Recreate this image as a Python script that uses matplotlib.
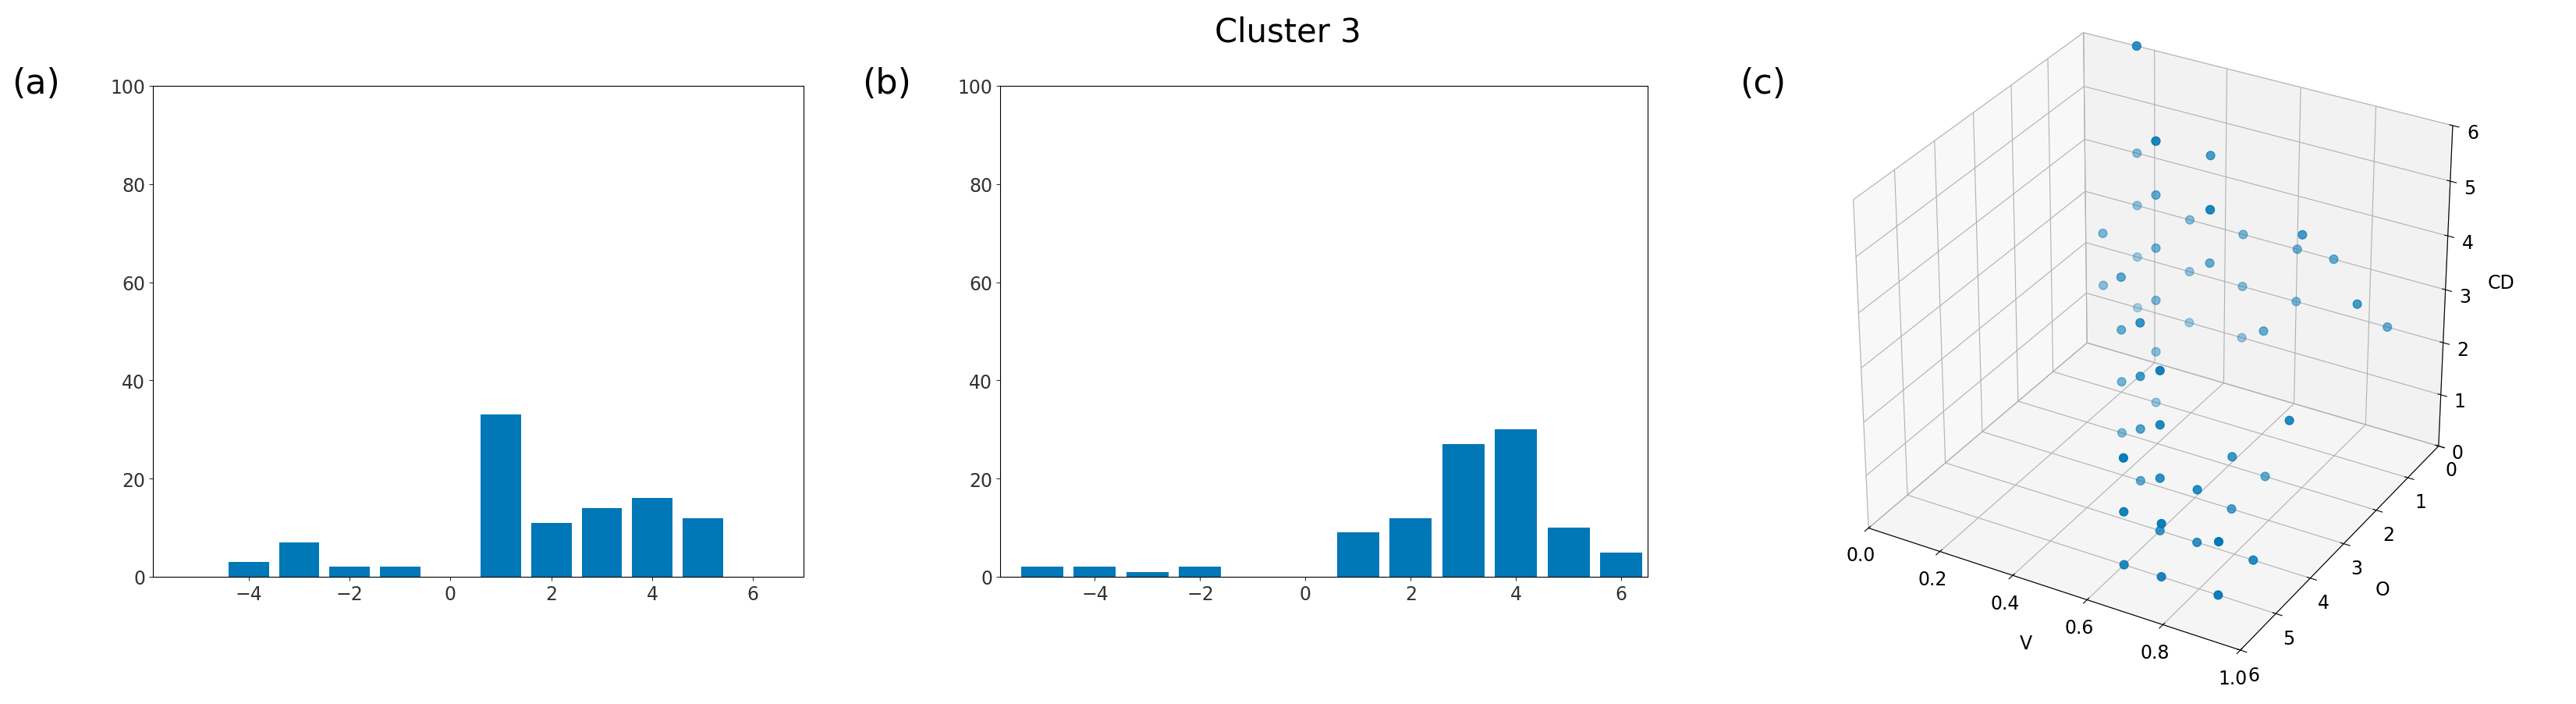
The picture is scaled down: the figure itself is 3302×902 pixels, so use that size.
import matplotlib
matplotlib.use("Agg")
import matplotlib.pyplot as plt

a_x = [-4, -3, -2, -1, 1, 2, 3, 4, 5]
a_y = [3, 7, 2, 2, 33, 11, 14, 16, 12]
b_x = [-5, -4, -3, -2, 1, 2, 3, 4, 5, 6]
b_y = [2, 2, 1, 2, 9, 12, 27, 30, 10, 5]

# 3D scatter points (V, O, CD)
pts_V = [0.3,0.3,0.3,0.3, 0.3,0.3,0.3,0.3, 0.45,0.45,0.45,0.45, 0.6,0.6,0.6,0.6, 0.6,0.6,0.6,
         0.7,0.7,0.7,0.7, 0.7,0.7,0.7, 0.85,0.85,0.85,0.85,
         0.15,0.15,0.15,0.15, 0.3,0.3,0.3, 0.45,0.45,0.45, 0.15,0.15, 0.45,0.45,0.45,0.45, 0.3,0.3,0.3,
         0.6,0.6,0.6,0.7,0.7,0.85,0.85,0.15,0.15]
pts_O = [1,1,1,1, 2,2,2,2, 3,3,3,3, 4,4,4,4, 5,5,5,
         2,3,4,5, 3,4,5, 4,5,5,3,
         0,0,0,0, 0,0,0, 0,0,0, 1,1, 1,1,1,1, 1,1,1,
         0,0,1,0,1,0,1,0,0]
pts_CD = [0,1,2,3, 0,1,2,3, 0,1,2,3, 0,1,2,3, 0,1,2,
          0,0,0,0, 1,1,1, 0,0,1,2,
          1,2,3,4, 1,2,3, 1,2,3, 2,3, 3,4,4,5, 4,5,5,
          2,3,2,3,4,2,3,6,6]

W, H = 3302, 903
fig = plt.figure(figsize=(W/100, H/100), dpi=100)
fig.text(0.5, 1-42/H, "Cluster 3", ha="center", va="center", fontsize=30)
c = "#0077b6"

ax1 = fig.add_axes([196/W, 1-740/H, 834/W, 629/H])
ax1.bar(a_x, a_y, color=c, width=0.8)
ax1.set_xlim(-5.9, 7)
ax1.set_ylim(0, 100)
ax2 = fig.add_axes([1282/W, 1-740/H, 830/W, 629/H])
ax2.bar(b_x, b_y, color=c, width=0.8)
ax2.set_xlim(-5.8, 6.5)
ax2.set_ylim(0, 100)
for ax in (ax1, ax2):
    ax.set_xticks([-4, -2, 0, 2, 4, 6])
    ax.set_yticks([0, 20, 40, 60, 80, 100])
    ax.tick_params(labelsize=17, colors="#333333")

fig.text(15/W, 1-107/H, "(a)", fontsize=32, va="center")
fig.text(1105/W, 1-107/H, "(b)", fontsize=32, va="center")
fig.text(2230/W, 1-107/H, "(c)", fontsize=32, va="center")

ax3 = fig.add_axes([2255/W, 0.03, 1000/W, 0.98], projection="3d")
ax3.set_box_aspect((4, 4, 3.5))
ax3.scatter(pts_V, pts_O, pts_CD, color=c, s=60, depthshade=True)
ax3.set_xlim(0, 1)
ax3.set_ylim(6, 0)
ax3.set_zlim(0, 6)
ax3.set_xlabel("V", fontsize=17, labelpad=14)
ax3.set_ylabel("O", fontsize=17, labelpad=14)
ax3.set_zlabel("CD", fontsize=17, labelpad=12)
ax3.tick_params(labelsize=17)

fig.savefig("out.png", dpi=100)
